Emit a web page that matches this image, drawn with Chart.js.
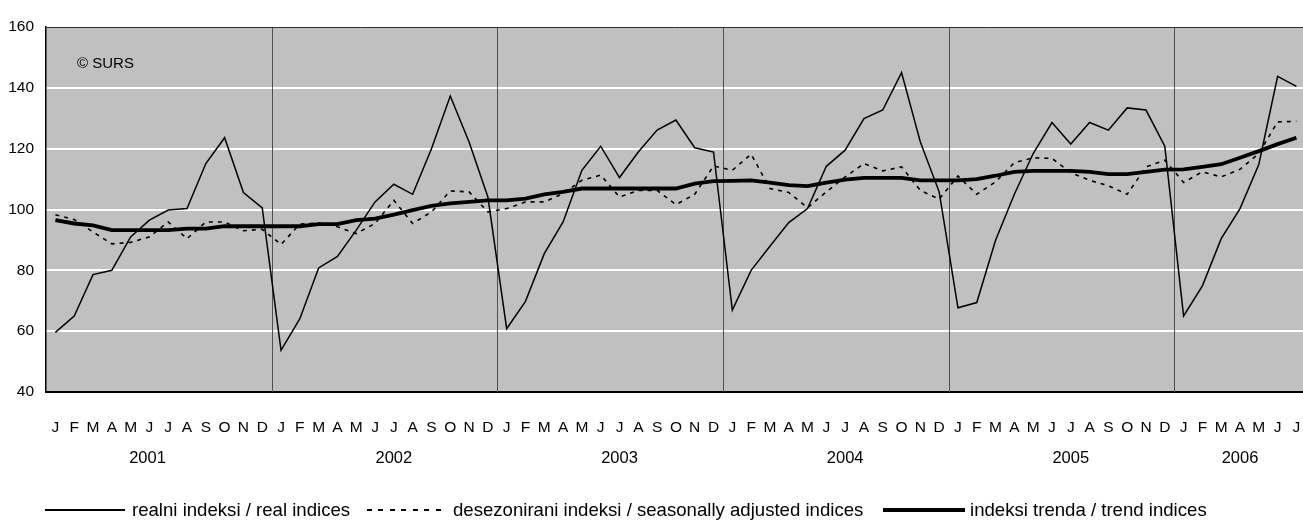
<!DOCTYPE html>
<html>
<head>
<meta charset="utf-8">
<script src="https://cdn.jsdelivr.net/npm/chart.js@4.4.0/dist/chart.umd.min.js"></script>
<style>
  html, body { margin: 0; padding: 0; background: #ffffff; }
  #wrap { position: relative; width: 1303px; height: 525px; overflow: hidden; }
  #c { position: absolute; left: 0; top: 0; }
  .lg-line { position: absolute; background: #000; }
  .lg-text { position: absolute; font-family: "Liberation Sans", Arial, sans-serif; font-size: 18.6px; line-height: 20px; color: #000; white-space: nowrap; }
</style>
</head>
<body>
<div id="wrap">
  <canvas id="c" width="1303" height="525"></canvas>
  <div class="lg-line" style="left:45px; top:509px; width:80px; height:1.5px;"></div>
  <div class="lg-text" style="left:132px; top:500px;">realni indeksi / real indices</div>
  <div class="lg-line" style="left:367px; top:509px; width:78px; height:2px; background: repeating-linear-gradient(to right, #000 0 5px, transparent 5px 11.5px);"></div>
  <div class="lg-text" style="left:453px; top:500px;">desezonirani indeksi / seasonally adjusted indices</div>
  <div class="lg-line" style="left:883px; top:508px; width:82px; height:3.5px;"></div>
  <div class="lg-text" style="left:970px; top:500px;">indeksi trenda / trend indices</div>
</div>
<script>
// ---- data ----
const monthLetters = ['J','F','M','A','M','J','J','A','S','O','N','D'];
const years = ['2001','2002','2003','2004','2005','2006'];
const monthsInLastYear = 7;

const realIndices = [
  59.6, 65.0, 78.6, 80.0, 91.0, 96.5, 99.8, 100.3, 115.1, 123.6, 105.6, 100.5,
  53.7, 64.1, 80.8, 84.6, 93.2, 102.5, 108.3, 105.0, 120.0, 137.3, 122.2, 104.1,
  60.8, 69.8, 85.5, 95.9, 112.9, 120.8, 110.5, 118.9, 126.1, 129.4, 120.3, 118.9,
  66.9, 80.0, 87.9, 95.7, 100.3, 114.2, 119.5, 129.9, 132.7, 145.0, 122.2, 105.8,
  67.7, 69.4, 89.9, 105.0, 118.4, 128.6, 121.5, 128.6, 126.1, 133.4, 132.7, 120.8,
  65.0, 74.9, 90.4, 100.3, 114.8, 143.8, 140.5
];
const seasonallyAdjusted = [
  98.3, 96.7, 92.6, 88.7, 89.2, 91.0, 95.9, 90.4, 95.9, 95.9, 93.0, 93.5,
  88.5, 95.2, 95.6, 94.3, 92.1, 95.4, 103.0, 95.4, 99.2, 106.1, 105.8, 99.2,
  100.3, 102.5, 102.5, 105.2, 109.6, 111.3, 104.1, 106.3, 106.3, 101.6, 105.0, 114.3,
  112.9, 118.2, 106.9, 105.6, 100.6, 105.8, 110.7, 115.1, 112.7, 114.0, 106.3, 103.4,
  111.0, 105.0, 109.1, 115.4, 117.0, 116.8, 112.1, 109.6, 107.8, 105.0, 114.0, 116.2,
  108.9, 112.4, 110.7, 113.2, 118.4, 128.8, 129.0
];
const trendIndices = [
  96.5, 95.4, 94.8, 93.2, 93.2, 93.2, 93.2, 93.7, 93.7, 94.5, 94.5, 94.5,
  94.5, 94.5, 95.2, 95.2, 96.5, 97.0, 98.3, 99.8, 101.2, 102.0, 102.5, 103.0,
  103.0, 103.6, 105.0, 105.8, 106.9, 106.9, 106.9, 106.9, 106.9, 106.9, 108.5, 109.3,
  109.4, 109.6, 108.8, 108.0, 107.7, 108.8, 109.8, 110.4, 110.4, 110.4, 109.6, 109.6,
  109.6, 110.0, 111.1, 112.4, 112.7, 112.7, 112.7, 112.4, 111.6, 111.6, 112.4, 113.1,
  113.2, 114.0, 114.9, 117.0, 119.2, 121.5, 123.6
];
const yMin = 40, yMax = 160, yStep = 20;

// ---- derived ----
const categories = [];
years.forEach((y, yi) => {
  const n = (yi === years.length - 1) ? monthsInLastYear : 12;
  for (let m = 0; m < n; m++) categories.push(monthLetters[m]);
});
const toPts = arr => arr.map((v, i) => ({ x: i, y: v }));

const tickFont = { family: '"Liberation Sans", Arial', size: 15.5 };
const yearFont = '16.5px "Liberation Sans", Arial';

const decorPlugin = {
  id: 'decor',
  beforeDraw(chart) {
    const { ctx, chartArea: a } = chart;
    ctx.save();
    ctx.fillStyle = '#c0c0c0';
    ctx.fillRect(a.left, a.top, a.right - a.left, a.bottom - a.top);
    ctx.restore();
  },
  beforeDatasetsDraw(chart) {
    const { ctx, chartArea: a, scales } = chart;
    const x = scales.x;
    ctx.save();
    ctx.strokeStyle = '#505050';
    ctx.lineWidth = 1;
    for (let k = 1; k < years.length; k++) {
      const px = Math.round(x.getPixelForValue(k * 12 - 0.5)) + 0.5;
      ctx.beginPath();
      ctx.moveTo(px, a.top);
      ctx.lineTo(px, a.bottom);
      ctx.stroke();
    }
    ctx.strokeStyle = '#303030';
    ctx.beginPath();
    ctx.moveTo(a.left, a.top + 0.5);
    ctx.lineTo(a.right, a.top + 0.5);
    ctx.stroke();
    ctx.fillStyle = '#000';
    ctx.font = '15px "Liberation Sans", Arial';
    ctx.textBaseline = 'middle';
    ctx.textAlign = 'left';
    ctx.fillText('\u00A9 SURS', 77, 64);
    ctx.restore();
  },
  afterDraw(chart) {
    const { ctx, scales } = chart;
    const x = scales.x;
    ctx.save();
    ctx.fillStyle = '#000';
    ctx.font = yearFont;
    ctx.textAlign = 'center';
    ctx.textBaseline = 'middle';
    let start = 0;
    years.forEach((y, yi) => {
      const n = (yi === years.length - 1) ? monthsInLastYear : 12;
      let c;
      if (yi === 0) c = start + 4.9;
      else if (n === 12) c = start + 6;
      else c = start + (n - 1) / 2;
      ctx.fillText(y, x.getPixelForValue(c), 458);
      start += n;
    });
    ctx.restore();
  }
};

new Chart(document.getElementById('c'), {
  type: 'line',
  data: {
    datasets: [
      { label: 'realni indeksi / real indices', data: toPts(realIndices), borderColor: '#000', borderWidth: 1.5, pointRadius: 0, tension: 0 },
      { label: 'desezonirani indeksi / seasonally adjusted indices', data: toPts(seasonallyAdjusted), borderColor: '#000', borderWidth: 1.6, borderDash: [4, 5], pointRadius: 0, tension: 0 },
      { label: 'indeksi trenda / trend indices', data: toPts(trendIndices), borderColor: '#000', borderWidth: 3.8, pointRadius: 0, tension: 0 }
    ]
  },
  options: {
    responsive: false,
    animation: false,
    events: [],
    layout: { padding: { top: 27, right: 0, left: 0, bottom: 0 } },
    plugins: { legend: { display: false }, tooltip: { enabled: false } },
    scales: {
      x: {
        type: 'linear',
        min: -0.5,
        max: categories.length - 0.65,
        afterBuildTicks: s => { s.ticks = categories.map((_, i) => ({ value: i })); },
        afterFit: s => { s.height = 133; s.paddingLeft = 0; s.paddingRight = 0; },
        ticks: {
          autoSkip: false, maxRotation: 0, minRotation: 0,
          padding: 0,
          color: '#000',
          font: tickFont,
          callback: v => categories[v]
        },
        grid: { display: true, drawOnChartArea: false, drawTicks: true, tickLength: 26, color: 'rgba(0,0,0,0)' },
        border: { display: true, color: '#000', width: 2 }
      },
      y: {
        min: yMin, max: yMax,
        afterFit: s => { s.width = 46; },
        ticks: { stepSize: yStep, padding: 12, color: '#000', font: tickFont },
        grid: {
          drawTicks: false,
          color: c => (c.tick.value === yMax || c.tick.value === yMin) ? 'rgba(0,0,0,0)' : '#ffffff',
          lineWidth: 2
        },
        border: { display: true, color: '#000', width: 1.5 }
      }
    }
  },
  plugins: [decorPlugin]
});
</script>
</body>
</html>
